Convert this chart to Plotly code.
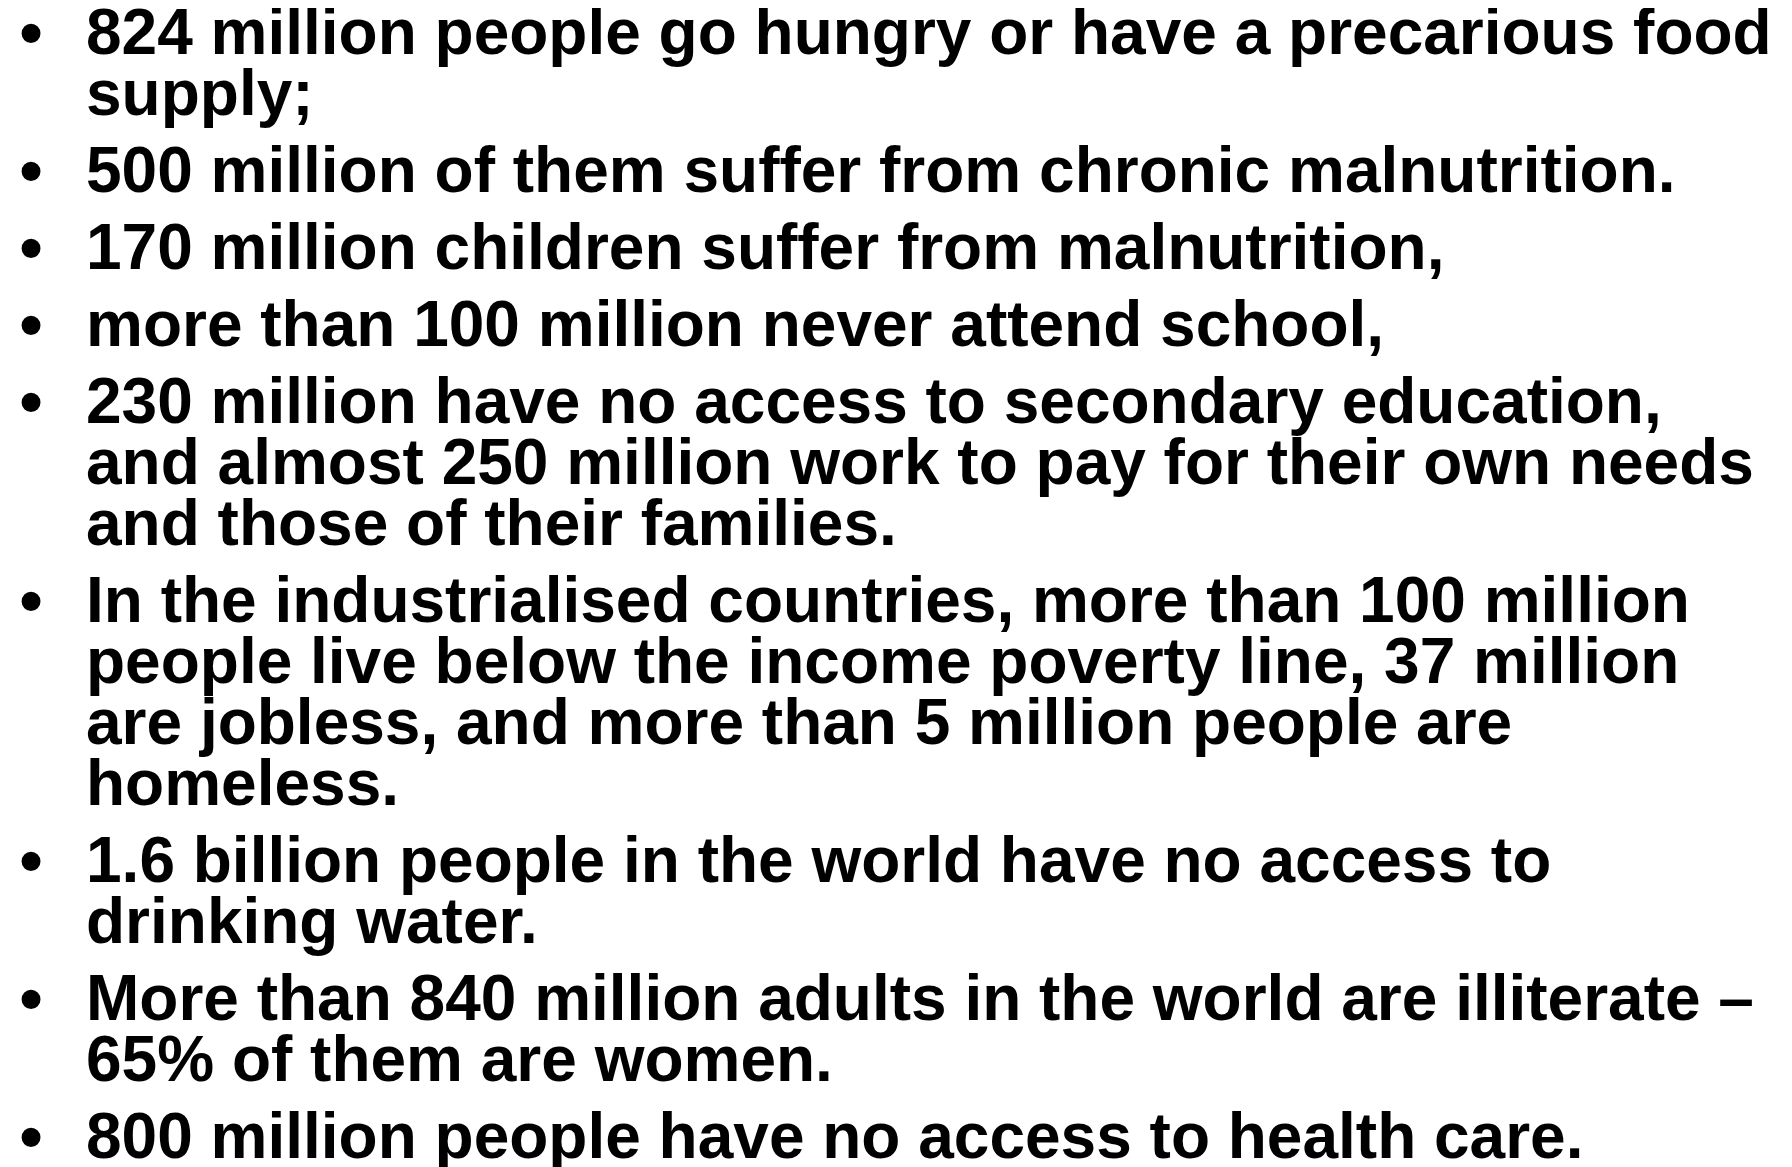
import plotly.graph_objects as go

# Slide content: one list of lines per bullet paragraph
para_1 = ["824 million people go hungry or have a precarious food", "supply;"]
para_2 = ["500 million of them suffer from chronic malnutrition."]
para_3 = ["170 million children suffer from malnutrition,"]
para_4 = ["more than 100 million never attend school,"]
para_5 = ["230 million have no access to secondary education,",
          "and almost 250 million work to pay for their own needs",
          "and those of their families."]
para_6 = ["In the industrialised countries, more than 100 million",
          "people live below the income poverty line, 37 million",
          "are jobless, and more than 5 million people are",
          "homeless."]
para_7 = ["1.6 billion people in the world have no access to",
          "drinking water."]
para_8 = ["More than 840 million adults in the world are illiterate –",
          "65% of them are women."]
para_9 = ["800 million people have no access to health care."]
paragraphs = [para_1, para_2, para_3, para_4, para_5, para_6, para_7, para_8, para_9]

W, H = 1792, 1167
FS = 64
BULLET_FS = 66
FONT = "Liberation Sans, Arial, sans-serif"
first_baseline = 58
line_step = 61
para_step = 77
text_x = 78
bullet_x = 23

tx, ty, tt = [], [], []
bx, by = [], []
base = first_baseline
for p in paragraphs:
    for i, line in enumerate(p):
        b = base + i * line_step
        tx.append(text_x)
        ty.append(b - 0.44 * FS)
        tt.append(line)
        if i == 0:
            bx.append(bullet_x)
            by.append(b - 28)
    base = base + (len(p) - 1) * line_step + para_step

fig = go.Figure()
fig.add_trace(go.Scatter(
    x=tx, y=ty, text=tt, mode="text", textposition="middle right",
    textfont=dict(family=FONT, size=FS, color="black", weight="bold"),
    hoverinfo="skip", showlegend=False, cliponaxis=False))
fig.add_trace(go.Scatter(
    x=bx, y=by, text=["•"] * len(bx), mode="text", textposition="middle center",
    textfont=dict(family=FONT, size=BULLET_FS, color="black", weight="bold"),
    hoverinfo="skip", showlegend=False, cliponaxis=False))

fig.update_layout(
    width=W, height=H,
    margin=dict(l=0, r=0, t=0, b=0),
    paper_bgcolor="white", plot_bgcolor="white",
    xaxis=dict(range=[0, W], visible=False, fixedrange=True),
    yaxis=dict(range=[H, 0], visible=False, fixedrange=True),
)
fig.write_html("out.html", config={"displayModeBar": False})
